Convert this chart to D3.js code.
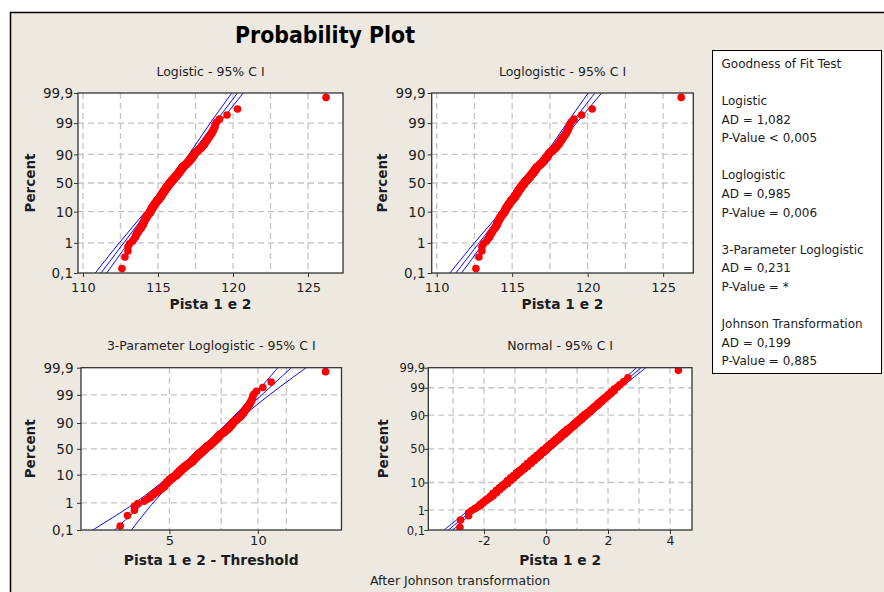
<!DOCTYPE html>
<html>
<head>
<meta charset="utf-8">
<script src="https://cdn.jsdelivr.net/npm/d3@7"></script>
<style>
  body { margin: 0; background: #fff; }
  svg { display: block; font-family: "DejaVu Sans", sans-serif; }
</style>
</head>
<body>
<svg id="chart" width="884" height="592"></svg>
<script>
// ---- data ----
// raw measurements (Pista 1 e 2) as value / how many times it occurs
const rawValues = [112.6,112.8,113.0,113.1,113.3,113.4,113.5,113.6,113.7,113.8,113.9,
  114.0,114.1,114.2,114.3,114.4,114.5,114.6,114.7,114.8,114.9,
  115.0,115.1,115.2,115.3,115.4,115.5,115.6,115.7,115.8,115.9,
  116.0,116.1,116.2,116.3,116.4,116.5,116.6,116.7,116.8,116.9,
  117.0,117.1,117.2,117.3,117.4,117.5,117.6,117.7,117.8,117.9,
  118.0,118.1,118.2,118.3,118.4,118.5,118.6,118.7,118.8,118.9,
  119.1,119.6,120.3,126.2];
const rawCounts = [1,1,2,1,1,1,2,2,2,2,3,
  5,6,6,6,5,10,11,11,12,11,
  11,13,19,19,19,19,19,19,19,16,
  16,16,16,16,16,16,15,9,8,9,
  8,9,8,9,8,5,3,4,3,4,
  3,4,3,3,2,2,2,2,2,1,
  1,1,1,1];
// same values after the Johnson transformation (one per raw value)
const johnsonValues = [-2.78,-2.76,-2.50,-2.40,-2.30,-2.22,-2.12,-2.03,-1.95,-1.88,-1.80,
  -1.71,-1.60,-1.50,-1.41,-1.34,-1.25,-1.14,-1.04,-0.95,-0.86,
  -0.78,-0.70,-0.60,-0.49,-0.39,-0.29,-0.19,-0.10,0.00,0.08,
  0.16,0.24,0.32,0.41,0.49,0.58,0.68,0.76,0.82,0.88,
  0.94,1.01,1.08,1.16,1.25,1.33,1.38,1.43,1.48,1.53,
  1.59,1.66,1.73,1.80,1.87,1.94,2.01,2.10,2.20,2.30,
  2.38,2.50,2.64,4.27];
const threshold = 109.2;

// fitted lines and 95% CI (x value at each percent)
const ciPercents = [0.1, 1, 10, 50, 90, 99, 99.9];
const logisticLow  = [110.82, 112.42, 114.16, 115.68, 117.06, 118.48, 119.92];
const logisticFit  = [111.20, 112.72, 114.30, 115.75, 117.20, 118.78, 120.30];
const logisticHigh = [111.58, 113.02, 114.44, 115.82, 117.34, 119.08, 120.68];
const loglogLow  = [110.88, 112.50, 114.27, 115.80, 117.20, 118.63, 120.04];
const loglogFit  = [111.27, 112.81, 114.41, 115.875, 117.34, 118.94, 120.48];
const loglogHigh = [111.65, 113.11, 114.55, 115.95, 117.48, 119.25, 120.93];
const thr3Low  = [2.74, 3.82, 5.07, 6.37, 7.86, 9.71, 11.7];
const thr3Fit  = [3.25, 4.10, 5.22, 6.50, 8.10, 10.31, 13.0];
const thr3High = [3.71, 4.40, 5.38, 6.63, 8.35, 10.95, 14.6];
const normalLow  = [-3.29, -2.49, -1.40, -0.10, 1.18, 2.19, 2.92];
const normalFit  = [-3.15, -2.38, -1.33, -0.04, 1.25, 2.30, 3.07];
const normalHigh = [-3.01, -2.27, -1.26, 0.02, 1.32, 2.41, 3.22];

// axes
const yTickPercents = [99.9, 99, 90, 50, 10, 1, 0.1];
const yTickLabels = ["99,9", "99", "90", "50", "10", "1", "0,1"];
const yGridPercents = [99, 90, 50, 10, 1];
const topXTicks = [110, 115, 120, 125];
const topXGrid = [110, 112.5, 115, 117.5, 120, 122.5, 125];
const thrXTicks = [5, 10];
const thrXGrid = [5, 7.5, 10, 12.5];
const normXTicks = [-2, 0, 2, 4];
const normXGrid = [-3, -2, -1, 0, 1, 2, 3, 4];

const chartTitle = "Probability Plot";
const panelTitles = ["Logistic - 95% C I", "Loglogistic - 95% C I",
                     "3-Parameter Loglogistic - 95% C I", "Normal - 95% C I"];
const xTitles = ["Pista 1 e 2", "Pista 1 e 2", "Pista 1 e 2 - Threshold", "Pista 1 e 2"];
const yTitle = "Percent";
const footNote = "After Johnson transformation";
const legendLines = ["Goodness of Fit Test", "", "Logistic", "AD = 1,082", "P-Value < 0,005", "",
  "Loglogistic", "AD = 0,985", "P-Value = 0,006", "",
  "3-Parameter Loglogistic", "AD = 0,231", "P-Value = *", "",
  "Johnson Transformation", "AD = 0,199", "P-Value = 0,885"];

// ---- helpers ----
const logit = p => Math.log(p / (1 - p));
function probit(p) {
  // Acklam's inverse normal cdf
  const a = [-39.69683028665376, 220.9460984245205, -275.9285104469687, 138.3577518672690, -30.66479806614716, 2.506628277459239];
  const b = [-54.47609879822406, 161.5858368580409, -155.6989798598866, 66.80131188771972, -13.28068155288572];
  const c = [-0.007784894002430293, -0.3223964580411365, -2.400758277161838, -2.549732539343734, 4.374664141464968, 2.938163982698783];
  const d = [0.007784695709041462, 0.3224671290700398, 2.445134137142996, 3.754408661907416];
  const pl = 0.02425;
  let q, r;
  if (p < pl) {
    q = Math.sqrt(-2 * Math.log(p));
    return (((((c[0]*q+c[1])*q+c[2])*q+c[3])*q+c[4])*q+c[5]) / ((((d[0]*q+d[1])*q+d[2])*q+d[3])*q+1);
  }
  if (p > 1 - pl) {
    q = Math.sqrt(-2 * Math.log(1 - p));
    return -(((((c[0]*q+c[1])*q+c[2])*q+c[3])*q+c[4])*q+c[5]) / ((((d[0]*q+d[1])*q+d[2])*q+d[3])*q+1);
  }
  q = p - 0.5; r = q * q;
  return (((((a[0]*r+a[1])*r+a[2])*r+a[3])*r+a[4])*r+a[5])*q / (((((b[0]*r+b[1])*r+b[2])*r+b[3])*r+b[4])*r+1);
}

// median ranks (Benard) for each observation
const n = d3.sum(rawCounts);
const ranked = [];
let rank = 0;
rawValues.forEach((v, k) => {
  for (let j = 0; j < rawCounts[k]; j++) {
    rank++;
    ranked.push({ raw: v, johnson: johnsonValues[k], p: (rank - 0.3) / (n + 0.4) });
  }
});

const svg = d3.select("#chart");
const textColor = "#1c1c24";

// frame
svg.append("rect").attr("x", 10).attr("y", 12).attr("width", 874).attr("height", 580).attr("fill", "#EDE9E0");
svg.append("path").attr("d", "M10.5,592V12.5H884").attr("fill", "none").attr("stroke", "#000").attr("stroke-width", 1.5);

svg.append("text").attr("x", 325).attr("y", 43).attr("text-anchor", "middle")
  .attr("font-size", 23).attr("font-weight", "bold").attr("fill", "#000")
  .attr("textLength", 180).attr("lengthAdjust", "spacingAndGlyphs")
  .text(chartTitle);

const panels = [
  { id: 0, left: 78, right: 343, top: 93, bottom: 273, xScale: d3.scaleLinear(), xDomain: [109.67, 127.33],
    tf: logit, xValue: d => d.raw, xTicks: topXTicks, xGrid: topXGrid,
    ci: [logisticLow, logisticFit, logisticHigh], yLabelX: 73, yTitleX: 35, tickFont: 13, yTickFont: 13.5 },
  { id: 1, left: 431.7, right: 693.3, top: 93, bottom: 273, xScale: d3.scaleLinear(), xDomain: [109.67, 127.0],
    tf: logit, xValue: d => d.raw, xTicks: topXTicks, xGrid: topXGrid,
    ci: [loglogLow, loglogFit, loglogHigh], yLabelX: 425.5, yTitleX: 387, tickFont: 13, yTickFont: 13.5 },
  { id: 2, left: 81, right: 341.5, top: 367.7, bottom: 530, xScale: d3.scaleLog(), xDomain: [2.5, 19.26],
    tf: logit, xValue: d => d.raw - threshold, xTicks: thrXTicks, xGrid: thrXGrid,
    ci: [thr3Low, thr3Fit, thr3High], yLabelX: 73.5, yTitleX: 35, tickFont: 13, yTickFont: 13.5 },
  { id: 3, left: 428.3, right: 692, top: 367.7, bottom: 530, xScale: d3.scaleLinear(), xDomain: [-3.80, 4.71],
    tf: probit, xValue: d => d.johnson, xTicks: normXTicks, xGrid: normXGrid,
    ci: [normalLow, normalFit, normalHigh], yLabelX: 425, yTitleX: 388, tickFont: 12.5, yTickFont: 11.5 }
];

panels.forEach(cfg => {
  const x = cfg.xScale.domain(cfg.xDomain).range([cfg.left, cfg.right]);
  const y = d3.scaleLinear().domain([cfg.tf(0.001), cfg.tf(0.999)]).range([cfg.bottom, cfg.top]);
  const w = cfg.right - cfg.left, h = cfg.bottom - cfg.top;
  const cx = (cfg.left + cfg.right) / 2, cy = (cfg.top + cfg.bottom) / 2;
  const g = svg.append("g");

  svg.append("clipPath").attr("id", "clip" + cfg.id)
    .append("rect").attr("x", cfg.left).attr("y", cfg.top).attr("width", w).attr("height", h);

  g.append("rect").attr("x", cfg.left).attr("y", cfg.top).attr("width", w).attr("height", h).attr("fill", "#fff");

  // dashed grid
  g.selectAll(".vgrid").data(cfg.xGrid).join("line")
    .attr("x1", d => x(d)).attr("x2", d => x(d)).attr("y1", cfg.top).attr("y2", cfg.bottom)
    .attr("stroke", "#c4c4c4").attr("stroke-width", 1.3).attr("stroke-dasharray", "6,4");
  g.selectAll(".hgrid").data(yGridPercents).join("line")
    .attr("x1", cfg.left).attr("x2", cfg.right)
    .attr("y1", d => y(cfg.tf(d / 100))).attr("y2", d => y(cfg.tf(d / 100)))
    .attr("stroke", "#c4c4c4").attr("stroke-width", 1.3).attr("stroke-dasharray", "6,4");

  // fit and confidence lines
  const line = d3.line().x(d => x(d[0])).y(d => y(cfg.tf(d[1] / 100))).curve(d3.curveCatmullRom);
  const ciG = g.append("g").attr("clip-path", "url(#clip" + cfg.id + ")");
  cfg.ci.forEach(arr => {
    ciG.append("path").attr("d", line(arr.map((v, i) => [v, ciPercents[i]])))
      .attr("fill", "none").attr("stroke", "#0000ff").attr("stroke-width", 1);
  });

  // points
  g.append("g").attr("clip-path", "url(#clip" + cfg.id + ")")
    .selectAll("circle").data(ranked).join("circle")
    .attr("cx", d => x(cfg.xValue(d))).attr("cy", d => y(cfg.tf(d.p)))
    .attr("r", 3.8).attr("fill", "#ff0000");

  g.append("rect").attr("x", cfg.left).attr("y", cfg.top).attr("width", w).attr("height", h)
    .attr("fill", "none").attr("stroke", "#333").attr("stroke-width", 1.3);

  // axes
  const xAxis = d3.axisBottom(x).tickValues(cfg.xTicks).tickSize(4).tickSizeOuter(0)
    .tickFormat(d => String(d));
  g.append("g").attr("transform", "translate(0," + cfg.bottom + ")").call(xAxis)
    .call(a => a.select(".domain").remove())
    .call(a => a.selectAll("line").attr("stroke", "#333"))
    .call(a => a.selectAll("text").attr("y", cfg.id < 2 ? 19 : 15).attr("dy", 0)
      .attr("font-size", cfg.tickFont).attr("font-family", "DejaVu Sans").attr("fill", textColor));

  const yAxis = d3.axisLeft(y).tickValues(yTickPercents.map(p => cfg.tf(p / 100)))
    .tickFormat((d, i) => yTickLabels[i]).tickSize(4).tickSizeOuter(0);
  g.append("g").attr("transform", "translate(" + cfg.left + ",0)").call(yAxis)
    .call(a => a.select(".domain").remove())
    .call(a => a.selectAll("line").attr("stroke", "#333"))
    .call(a => a.selectAll("text").attr("x", cfg.yLabelX - cfg.left).attr("dy", "0.36em")
      .attr("font-size", cfg.yTickFont).attr("font-family", "DejaVu Sans").attr("fill", textColor));

  // titles
  g.append("text").attr("x", cx).attr("y", cfg.id < 2 ? 76 : 350).attr("text-anchor", "middle")
    .attr("font-size", 12.5).attr("fill", textColor).text(panelTitles[cfg.id]);
  g.append("text").attr("x", cx).attr("y", cfg.id < 2 ? 309 : 565).attr("text-anchor", "middle")
    .attr("font-size", 13.8).attr("font-weight", "bold").attr("fill", textColor).text(xTitles[cfg.id]);
  g.append("text").attr("transform", "translate(" + cfg.yTitleX + "," + cy + ") rotate(-90)")
    .attr("text-anchor", "middle").attr("font-size", 13.5).attr("font-weight", "bold")
    .attr("fill", textColor).text(yTitle);
});

svg.append("text").attr("x", 370).attr("y", 585).attr("font-size", 12.5).attr("fill", textColor).text(footNote);

// goodness of fit box
svg.append("rect").attr("x", 712.5).attr("y", 50.5).attr("width", 169).attr("height", 323)
  .attr("fill", "#fff").attr("stroke", "#000").attr("stroke-width", 1);
svg.append("g").selectAll("text").data(legendLines).join("text")
  .attr("x", 721.5).attr("y", (d, i) => 67.8 + 18.6 * i)
  .attr("font-size", 12).attr("fill", textColor).text(d => d);
</script>
</body>
</html>
